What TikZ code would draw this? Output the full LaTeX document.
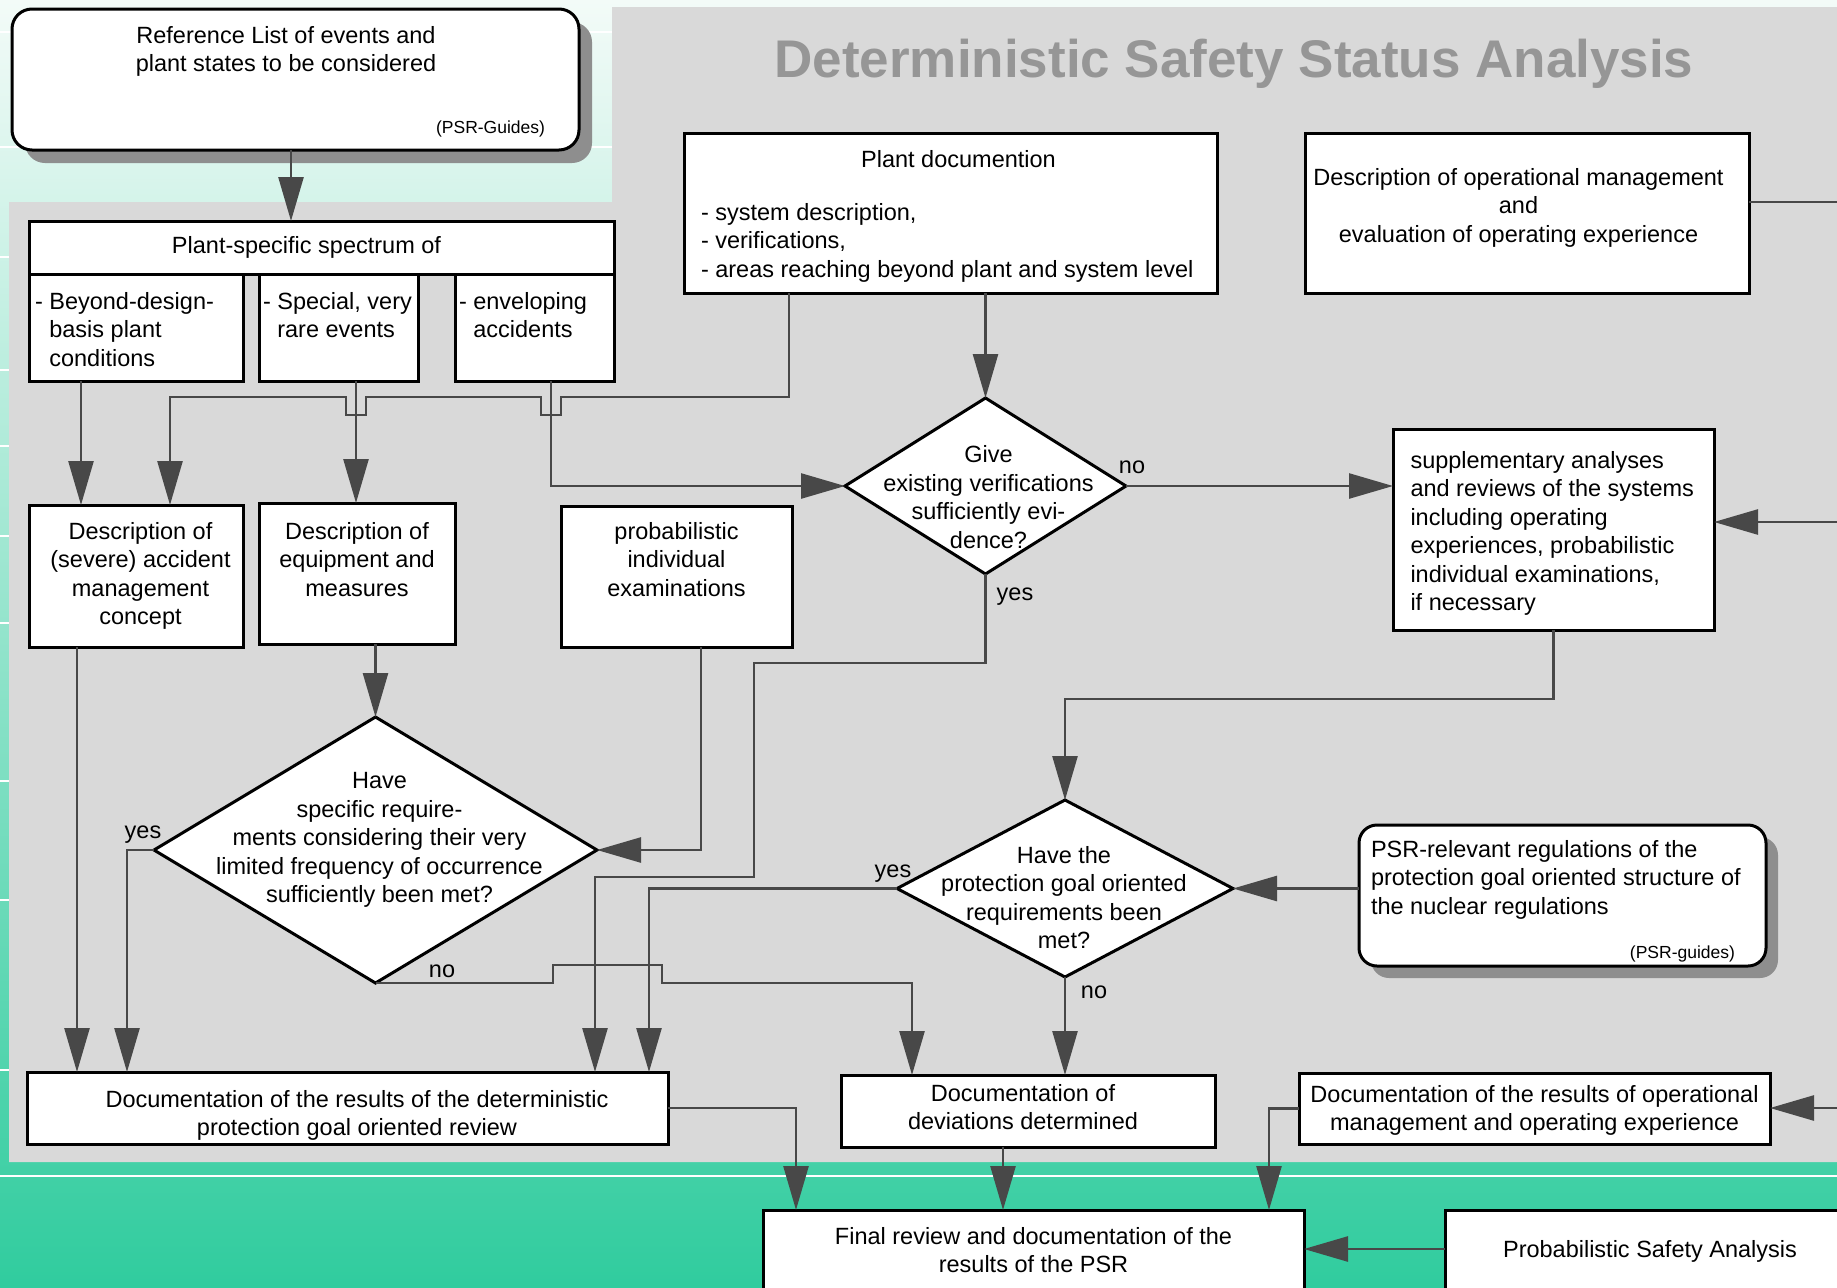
\documentclass[tikz,border=0pt]{standalone}
\usepackage{fontspec}
\setmainfont{Liberation Sans}
\usetikzlibrary{arrows.meta,shapes.geometric,shadows}
\definecolor{panel}{RGB}{217,217,217}
\definecolor{lnc}{RGB}{72,72,72}
\definecolor{ttl}{RGB}{150,150,150}
\definecolor{shd}{RGB}{142,142,142}
\definecolor{bgtop}{RGB}{243,251,248}
\definecolor{bgmid}{RGB}{165,228,203}
\definecolor{bgbot}{RGB}{48,204,158}
\newcommand\fsn{\fontsize{23.5pt}{28.5pt}\selectfont}
\newcommand\fssm{\fontsize{17.5pt}{20pt}\selectfont}
\newcommand\pbx[4]{\parbox[c][#2pt][t]{#1pt}{\vspace*{#3pt}#4}}
\begin{document}
\begin{tikzpicture}[x=1pt,y=-1pt,
 box/.style={draw=black,line width=3pt,fill=white,inner sep=0pt,outer sep=0pt,anchor=north west,font=\fsn},
 rbox/.style={box,rounded corners=20pt},
 dia/.style={draw=black,line width=3pt,fill=white,diamond,inner sep=0pt,outer sep=0pt},
 dtext/.style={font=\fsn,align=center,inner sep=0pt,draw=none,fill=none,shape=rectangle},
 con/.style={draw=lnc,line width=2.6pt},
 arr/.style={con,-{Triangle[length=44pt,width=25pt]}},
 lbl/.style={font=\fsn,inner sep=0pt},
 ttlstyle/.style={font=\fontsize{53pt}{60pt}\selectfont\bfseries,text=ttl}
]
\useasboundingbox (0,0) rectangle (1837,1288);
\clip (0,0) rectangle (1837,1288);
% background
\shade[top color=bgtop,middle color=bgmid,bottom color=bgbot] (0,0) rectangle (1837,1288);
\foreach \yy in {32,147,257,370,446,536,623,781,900,1070,1176}
  \draw[white,line width=1.3pt] (0,\yy) -- (1837,\yy);
\fill[panel] (612,7) -- (1845,7) -- (1845,1162) -- (9,1162) -- (9,202) -- (612,202) -- cycle;
\node[ttlstyle] (title) at (1234,64) {Deterministic Safety Status Analysis};

% boxes
\node[rbox,drop shadow={shadow xshift=13pt,shadow yshift=-13pt,fill=shd,opacity=1}] (ref) at (12,9)
 {\pbx{567}{141}{17}{\centering\rightskip=19pt plus 1fil Reference List of events and\\plant states to be considered\par\vfill{\raggedleft\rightskip=34pt\fssm (PSR-Guides)\par}\vspace*{13pt}}};
\node[box] (spec) at (29,221) {\parbox[c][53pt][c]{585pt}{\centering\rightskip=30pt plus 1fil Plant-specific spectrum of}};
\node[box] (bey) at (29,274) {\pbx{214}{107}{18}{\raggedright\leftskip=6pt \mbox{- Beyond-design-}\\\hphantom{- }basis plant\\\hphantom{- }conditions}};
\node[box] (spe) at (259,274) {\pbx{159}{107}{18}{\raggedright\leftskip=4pt \mbox{- Special, very}\\\hphantom{- }rare events}};
\node[box] (env) at (455,274) {\pbx{159}{107}{18}{\raggedright\leftskip=4pt - enveloping\\\hphantom{- }accidents}};
\node[box] (sam) at (29,505) {\pbx{214}{142}{17}{\centering\leftskip=9pt plus 1fil Description of\\(severe) accident\\management\\concept}};
\node[box] (equ) at (259,503) {\pbx{196}{141}{19}{\centering Description of\\equipment and\\measures}};
\node[box] (pie) at (561,506) {\pbx{231}{141}{16}{\centering probabilistic\\individual\\examinations}};
\node[box] (pd) at (684,133) {\pbx{533}{160}{17}{\centering\leftskip=16pt plus 1fil Plant documention\par\vspace{24.5pt}\raggedright\leftskip=17pt - system description,\\- verifications,\\\mbox{- areas reaching beyond plant and system level}}};
\node[box] (dom) at (1305,133) {\pbx{444}{160}{35}{\centering\rightskip=17pt plus 1fil Description of operational management\\and\\evaluation of operating experience}};
\node[box] (sup) at (1393,429) {\pbx{321}{201}{22}{\raggedright\leftskip=17.5pt supplementary analyses\\and reviews of the systems\\including operating\\experiences, probabilistic\\individual examinations,\\if necessary}};
\node[rbox,rounded corners=18pt,drop shadow={shadow xshift=12pt,shadow yshift=-12pt,fill=shd,opacity=1}] (psr) at (1359,825)
 {\pbx{407}{141}{15}{\raggedright\leftskip=12pt PSR-relevant regulations of the\\\mbox{protection goal oriented structure of}\\the nuclear regulations\par\vfill{\raggedleft\rightskip=31pt\fssm (PSR-guides)\par}\vspace*{4pt}}};
\node[box] (ddr) at (27,1072) {\pbx{641}{72}{18}{\centering\leftskip=19pt plus 1fil Documentation of the results of the deterministic\\protection goal oriented review}};
\node[box] (ddd) at (841,1075) {\pbx{374}{72}{9}{\centering\rightskip=10pt plus 1fil Documentation of\\deviations determined}};
\node[box] (dor) at (1299,1073) {\pbx{471}{71}{12}{\centering\mbox{Documentation of the results of operational}\\management and operating experience}};
\node[box] (frv) at (763,1210) {\pbx{541}{90}{17}{\centering Final review and documentation of the\\results of the PSR}};
\node[box] (psa) at (1445,1210) {\pbx{410}{90}{30}{\centering Probabilistic Safety Analysis}};

% diamonds
\node[dia,minimum width=281pt,minimum height=176pt,
  label={[dtext,xshift=3pt,yshift=-11pt]center:{Give\\existing verifications\\sufficiently evi-\\dence?}}] (give) at (985.5,486) {};
\node[dia,minimum width=443pt,minimum height=266pt,
  label={[dtext,xshift=4pt,yshift=10pt]center:{Have\\specific require-\\ments considering their very\\limited frequency of occurrence\\sufficiently been met?}}] (hsr) at (375.5,850) {};
\node[dia,minimum width=336pt,minimum height=177pt,
  label={[dtext,xshift=-1pt,yshift=-9pt]center:{Have the\\protection goal oriented\\requirements been\\met?}}] (pgr) at (1065,888.5) {};

% free ends at the right edge
\coordinate (eA) at (1850,202);
\coordinate (eB) at (1850,522);
\coordinate (eC) at (1850,1108);

% connectors
\draw[arr] ([xshift=-4.5pt]ref.south) -- ([xshift=-30.5pt]spec.north);
\draw[arr] ([xshift=-55pt]bey.south) -- ([xshift=-55pt]sam.north);
\draw[arr] ([xshift=17.5pt]spe.south) -- ([xshift=-1pt]equ.north);
\draw[arr] ([xshift=-161.5pt]pd.south) |- (561,397) -- (561,415) -- (541,415) -- (541,397)
   -- (366,397) -- (366,415) -- (346,415) -- (346,397) -| ([xshift=34pt]sam.north);
\draw[arr] ([xshift=16.5pt]env.south) |- (give.west);
\draw[arr] ([xshift=35pt]pd.south) -- (give.north);
\draw[arr] (give.east) -- (give.east -| sup.west);
\draw[arr] (give.south) -- ++(0,89) -| (754,877) -| ([xshift=247.5pt]ddr.north);
\draw[arr] (pgr.west) -| ([xshift=301.5pt]ddr.north);
\draw[arr] (sup.south) -- ++(0,69) -| (pgr.north);
\draw[arr] (psr.west |- pgr.east) -- (pgr.east);
\draw[arr] ([xshift=24.5pt]pie.south) |- (hsr.east);
\draw[arr] ([xshift=18.5pt]equ.south) -- (hsr.north);
\draw[arr] ([xshift=-59pt]sam.south) -- ([xshift=-270.5pt]ddr.north);
\draw[arr] (hsr.west) -| ([xshift=-220.5pt]ddr.north);
\draw[arr] (hsr.south) -- (553,983) -- (553,965) -- (662,965) -- (662,983) -| ([xshift=-116pt]ddd.north);
\draw[arr] (pgr.south) -- ([xshift=37pt]ddd.north);
\draw[arr] (ddr.east) -| ([xshift=-237.5pt]frv.north);
\draw[arr] ([xshift=-25pt]ddd.south) -- ([xshift=-30.5pt]frv.north);
\draw[arr] (dor.west) -| ([xshift=235.5pt]frv.north);
\draw[arr] ([yshift=6pt]psa.west) -- ([yshift=6pt]psa.west -| frv.east);
\draw[con] (dom.east |- eA) -- (eA);
\draw[arr] (eB) -- (eB -| sup.east);
\draw[arr] (eC) -- (eC -| dor.east);

% branch labels
\node[lbl] (y1) at (143,835) {yes};
\node[lbl] (n1) at (442,971) {no};
\node[lbl] (y2) at (893,874) {yes};
\node[lbl] (n2) at (1094,992) {no};
\node[lbl] (n3) at (1132,467) {no};
\node[lbl] (y3) at (1015,597) {yes};
\end{tikzpicture}
\end{document}
